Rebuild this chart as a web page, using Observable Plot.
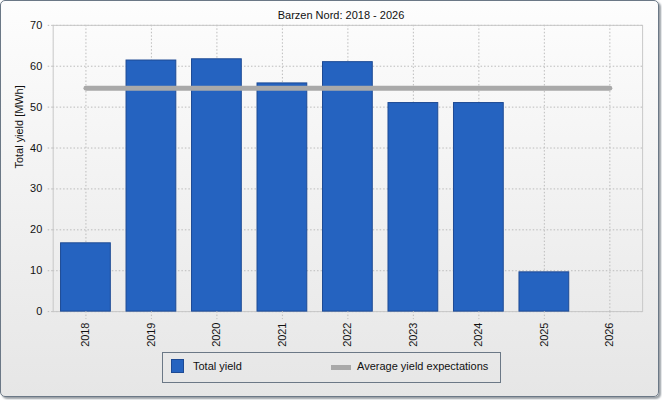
<!DOCTYPE html>
<html><head><meta charset="utf-8">
<script src="https://cdn.jsdelivr.net/npm/d3@7"></script>
<script src="https://cdn.jsdelivr.net/npm/@observablehq/plot@0.6"></script>
<style>
body{margin:0;font-family:"Liberation Sans",Arial,sans-serif;}
#frame{position:absolute;left:0;top:0;width:657px;height:395px;border:1px solid #6b7886;border-radius:5px;
background:linear-gradient(#fdfdfd,#e6e6e6);box-shadow:2px 2px 2px #9aa0a6;overflow:hidden;}
#chart{position:absolute;left:-1px;top:-1px;}
#title{position:absolute;left:0;width:680px;top:8px;text-align:center;font-size:11px;color:#111;}
#legend{position:absolute;left:161px;top:351px;width:337px;height:29px;border:1px solid #6b7886;font-size:11px;color:#111;}
.sw1{position:absolute;left:8px;top:6px;width:13px;height:14px;background:#2563c0;border:1px solid #1d4a94;box-sizing:border-box;}
.t1{position:absolute;left:30px;top:7px;}
.sw2{position:absolute;left:168px;top:12px;width:20px;height:5px;background:#a9a9a9;}
.t2{position:absolute;left:194px;top:7px;}
</style></head>
<body>
<div id="frame">
<div id="chart"></div>
<div id="title">Barzen Nord: 2018 - 2026</div>
<div id="legend"><div class="sw1"></div><div class="t1">Total yield</div><div class="sw2"></div><div class="t2">Average yield expectations</div></div>
</div>
<script>
const years = ["2018","2019","2020","2021","2022","2023","2024","2025","2026"];
const yields = [16.7, 61.4, 61.7, 55.8, 61.0, 51.0, 51.0, 9.6, null];
const expectation = 54.6;
const yTicks = [0,10,20,30,40,50,60,70];

const bars = years.map((y,i)=>({year:y, value:yields[i]})).filter(d=>d.value!=null);
const avg = years.map(y=>({year:y, value:expectation}));

const plot = Plot.plot({
  width:662, height:400,
  marginLeft:53, marginRight:16, marginTop:25, marginBottom:87,
  style:{background:"transparent", fontFamily:"Liberation Sans, Arial, sans-serif", fontSize:"11px", color:"#111"},
  x:{type:"band", domain:years, paddingInner:0.24, paddingOuter:0.12, round:false, label:null},
  y:{domain:[0,70], label:null},
  marks:[
    Plot.gridY(yTicks,{stroke:"#bbb", strokeOpacity:1, strokeDasharray:"1.5,2"}),
    Plot.gridX(years,{stroke:"#bbb", strokeOpacity:1, strokeDasharray:"1.5,2"}),
    Plot.frame({stroke:"#c8c8c8"}),
    Plot.barY(bars,{x:"year", y:"value", fill:"#2563c0", stroke:"#1d4a94", strokeWidth:1}),
    Plot.lineY(avg,{x:"year", y:"value", stroke:"#a9a9a9", strokeWidth:5}),
    Plot.axisY(yTicks,{tickSize:6, stroke:"#bbb", strokeDasharray:"1.5,2", tickPadding:5, fontSize:11}),
    Plot.axisX(years,{tickSize:8, stroke:"#bbb", strokeDasharray:"1.5,2", tickRotate:-90, tickPadding:3, fontSize:11}),
    Plot.text(["Total yield [MWh]"],{frameAnchor:"left", dx:-34, rotate:-90, fontSize:11, fill:"#111"})
  ]
});
document.getElementById("chart").appendChild(plot);
</script>
</body></html>
